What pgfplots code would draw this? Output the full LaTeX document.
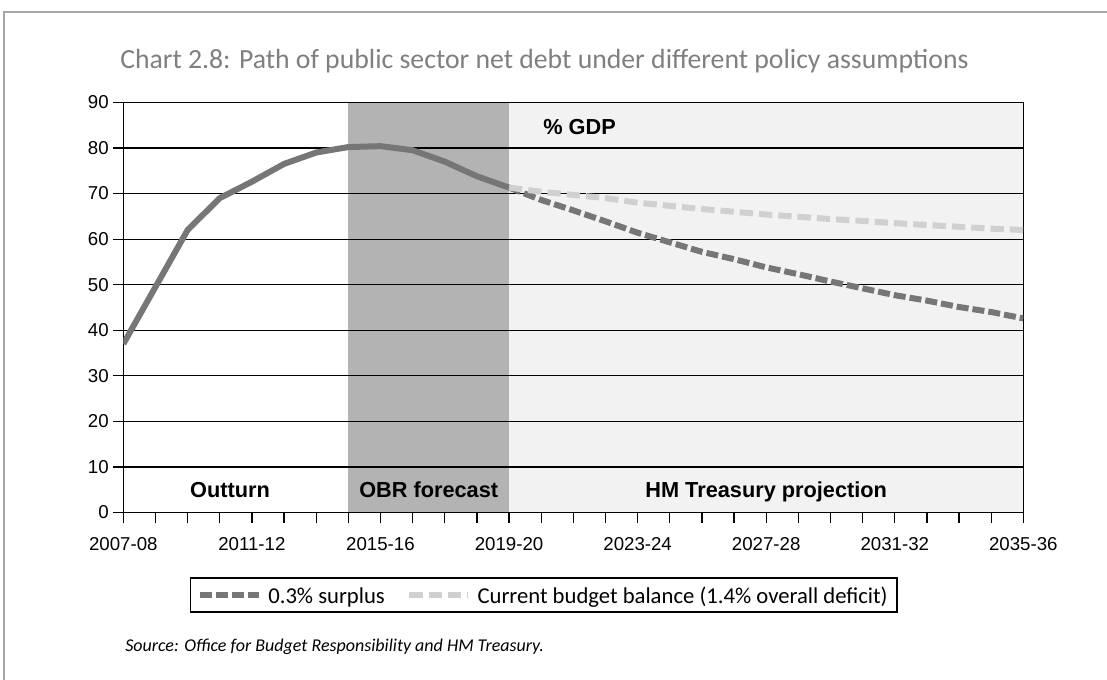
\documentclass[border=0pt]{standalone}
\usepackage{fontspec}
\setmainfont{Liberation Sans}
\newfontfamily\calib{Carlito}
\usepackage{pgfplots}
\pgfplotsset{compat=1.18}
\definecolor{darkline}{HTML}{767676}
\definecolor{lightline}{HTML}{D0D0D0}
\definecolor{bandA}{HTML}{B3B3B3}
\definecolor{bandB}{HTML}{F2F2F2}
\definecolor{titlegray}{HTML}{7F7F7F}
\definecolor{framegray}{HTML}{A6A6A6}

\pgfplotstableread{
x y
0 37.0
1 49.5
2 62.0
3 69.0
4 72.6
5 76.5
6 79.0
7 80.2
8 80.4
9 79.5
10 77.0
11 73.8
12 71.3
}\outturndata

\pgfplotstableread{
x y
12 71.3
13 68.6
14 66.3
15 63.9
16 61.4
17 59.3
18 57.2
19 55.6
20 53.8
21 52.3
22 50.7
23 49.2
24 47.7
25 46.5
26 45.1
27 44.0
28 42.6
}\surplusdata

\pgfplotstableread{
x y
12 71.3
13 70.4
14 69.7
15 69.0
16 68.0
17 67.3
18 66.6
19 66.0
20 65.4
21 64.9
22 64.4
23 64.0
24 63.5
25 63.1
26 62.7
27 62.3
28 62.0
}\balancedata

\newcommand{\lstrut}{\rule[-6bp]{0pt}{20bp}}

\begin{document}
\begin{tikzpicture}
\path[use as bounding box] (0,0) rectangle (830.25bp,510bp);
\draw[framegray, line width=1.6bp] (3bp,0bp) -- (3bp,501bp) -- (830.25bp,501bp);
\node[anchor=west, text=titlegray, inner sep=0,
      font=\calib\fontsize{20.8bp}{24bp}\selectfont] at (90bp,464.25bp)
  {Chart 2.8: Path of public sector net debt under different policy assumptions};
\node[anchor=west, inner sep=0,
      font=\calib\itshape\fontsize{13.5bp}{16bp}\selectfont] at (93.75bp,24.75bp)
  {Source: Office for Budget Responsibility and HM Treasury.};

% background bands
\begin{axis}[
  at={(92.5bp,125.6bp)}, anchor=south west,
  scale only axis, width=675bp, height=307.6bp,
  xmin=0, xmax=28, ymin=0, ymax=90,
  hide axis,
]
\addplot[fill=bandA, draw=none] coordinates {(7,90) (12,90)} \closedcycle;
\addplot[fill=bandB, draw=none] coordinates {(12,90) (28,90)} \closedcycle;
\end{axis}

\begin{axis}[
  at={(92.5bp,125.6bp)}, anchor=south west,
  scale only axis, width=675bp, height=307.6bp,
  xmin=0, xmax=28, ymin=0, ymax=90,
  xtick={0,...,28},
  xticklabels={2007-08,,,,2011-12,,,,2015-16,,,,2019-20,,,,2023-24,,,,2027-28,,,,2031-32,,,,2035-36},
  ytick={0,10,...,90},
  xtick pos=left, ytick pos=left,
  tick align=outside, major tick length=7.5bp,
  ymajorgrids, grid style={black, line width=0.9bp},
  axis line style={black, line width=0.9bp},
  tick style={black, line width=0.9bp},
  /pgf/number format/assume math mode=true,
  ticklabel style={font=\fontsize{14bp}{16bp}\selectfont},
  xticklabel style={yshift=-8bp},
  legend style={at={(0.467,-0.158)}, anchor=north, legend columns=2,
    draw=black, line width=0.9bp, inner xsep=5bp, inner ysep=3bp,
    font=\calib\fontsize{17bp}{20bp}\selectfont,
    /tikz/every even column/.append style={column sep=14bp}},
  legend cell align=left,
  legend image code/.code={\draw[#1, line width=4.5bp] (0bp,0bp) -- (44bp,0bp); \path (47bp,0bp);},
]
\addplot[darkline, line width=4.5bp, forget plot] table {\outturndata};
\addplot[darkline, line width=4.5bp, dash pattern=on 9bp off 3bp] table {\surplusdata};
\addlegendentry{\lstrut 0.3\% surplus}
\addplot[lightline, line width=4.5bp, dash pattern=on 10bp off 4.5bp] table {\balancedata};
\addlegendentry{\lstrut Current budget balance (1.4\% overall deficit)}

\node[anchor=base, font=\bfseries\fontsize{16.3bp}{19bp}\selectfont] at (axis cs:3.32,3.2) {Outturn};
\node[anchor=base, font=\bfseries\fontsize{16.3bp}{19bp}\selectfont] at (axis cs:9.5,3.2) {OBR forecast};
\node[anchor=base, font=\bfseries\fontsize{16.3bp}{19bp}\selectfont] at (axis cs:20,3.2) {HM Treasury projection};
\node[anchor=west, font=\bfseries\fontsize{16.3bp}{19bp}\selectfont] at (axis cs:12.92,84.7) {\% GDP};
\end{axis}
\end{tikzpicture}
\end{document}
